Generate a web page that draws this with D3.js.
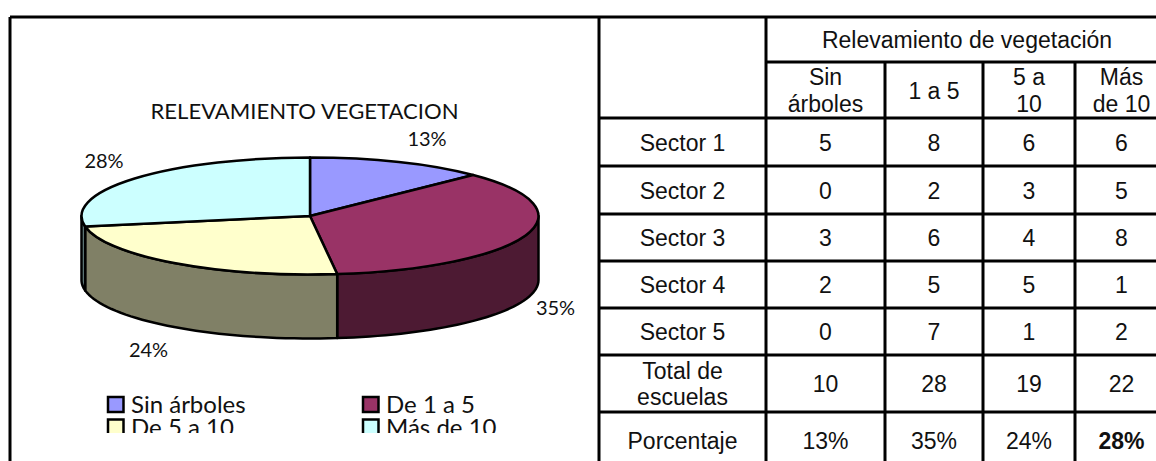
<!DOCTYPE html>
<html>
  <head>
    <meta charset="UTF-8" />
    <title>Relevamiento vegetacion</title>
    <style>
      html, body { margin: 0; padding: 0; background: #fff; }
      svg { display: block; }
      .pie text { font-family: Lato, "Open Sans", sans-serif; fill: #111; }
      .tabla text { font-family: "Liberation Sans", Arial, sans-serif; fill: #111; font-size: 23px; text-anchor: middle; }
    </style>
  </head>
  <body>
    <svg></svg>
    <script src="https://cdnjs.cloudflare.com/ajax/libs/d3/7.8.5/d3.min.js"></script>
    <script>
      // values
      const categorias = ["Sin árboles", "De 1 a 5", "De 5 a 10", "Más de 10"];
      const totales = [10, 28, 19, 22];
      const porcentajes = ["13%", "35%", "24%", "28%"];
      const colores = ["#9999ff", "#993366", "#ffffcc", "#ccffff"];
      const coloresLado = ["#4d4d80", "#4d1a33", "#808066", "#668080"];

      const titulo = "RELEVAMIENTO VEGETACION";
      const tituloTabla = "Relevamiento de vegetación";
      const encabezados = [["Sin", "árboles"], ["1 a 5"], ["5 a", "10"], ["Más", "de 10"]];
      const filas = [["Sector 1"], ["Sector 2"], ["Sector 3"], ["Sector 4"], ["Sector 5"], ["Total de", "escuelas"], ["Porcentaje"]];
      const sector1 = [5, 8, 6, 6];
      const sector2 = [0, 2, 3, 5];
      const sector3 = [3, 6, 4, 8];
      const sector4 = [2, 5, 5, 1];
      const sector5 = [0, 7, 1, 2];

      const width = 1156, height = 461;
      const svg = d3.select("svg").attr("width", width).attr("height", height);

      // pie geometry
      const cx = 310, cy = 216, rx = 228.5, ry = 58.5, depth = 64;

      const g = svg.append("g").attr("class", "pie");

      const arcos = d3.pie().sort(null)(totales);
      const arc = d3.arc().innerRadius(0).outerRadius(rx);

      // point on the rim, angle clockwise from the top like d3.arc
      const rim = (a, dy) => [cx + rx * Math.sin(a), cy - ry * Math.cos(a) + dy];
      const linea = d3.line();

      // walls: only the part of each slice between 3 o'clock and 9 o'clock shows
      arcos.forEach((d, i) => {
        const a0 = Math.max(d.startAngle, Math.PI / 2);
        const a1 = Math.min(d.endAngle, (3 * Math.PI) / 2);
        if (a1 <= a0) return;
        const borde = d3.range(0, 41).map((k) => a0 + ((a1 - a0) * k) / 40);
        const puntos = borde.map((a) => rim(a, 0)).concat(borde.slice().reverse().map((a) => rim(a, depth)));
        g.append("path")
          .attr("d", linea(puntos) + "Z")
          .attr("fill", coloresLado[i])
          .attr("stroke", "#000")
          .attr("stroke-width", 2.5)
          .attr("stroke-linejoin", "round");
      });

      // top face, the scale squashes the circle into the ellipse
      g.append("g")
        .attr("transform", `translate(${cx},${cy}) scale(1,${ry / rx})`)
        .selectAll("path")
        .data(arcos)
        .enter()
        .append("path")
        .attr("d", arc)
        .attr("fill", (d, i) => colores[i])
        .attr("stroke", "#000")
        .attr("stroke-width", 2.5)
        .attr("stroke-linejoin", "round")
        .attr("vector-effect", "non-scaling-stroke");

      g.append("text")
        .attr("x", 304.5)
        .attr("y", 119)
        .attr("text-anchor", "middle")
        .attr("font-size", 21)
        .attr("textLength", 308)
        .attr("lengthAdjust", "spacingAndGlyphs")
        .text(titulo);

      const etiquetaPos = [[427, 146], [555.5, 315], [148.5, 357], [104, 168]];
      g.selectAll("text.pct")
        .data(porcentajes)
        .enter()
        .append("text")
        .attr("class", "pct")
        .attr("x", (d, i) => etiquetaPos[i][0])
        .attr("y", (d, i) => etiquetaPos[i][1])
        .attr("text-anchor", "middle")
        .attr("font-size", 20)
        .text((d) => d);

      // legend, the second row is cut off by the picture frame
      svg.append("clipPath").attr("id", "corte").append("rect").attr("x", 0).attr("y", 0).attr("width", 600).attr("height", 433);
      const leyendaX = [108, 363], leyendaY = [397, 419.5];
      const ley = g.append("g").attr("clip-path", "url(#corte)");
      categorias.forEach((c, i) => {
        const x = leyendaX[i % 2], y = leyendaY[Math.floor(i / 2)];
        ley.append("rect").attr("x", x).attr("y", y).attr("width", 15.5).attr("height", 15).attr("fill", colores[i]).attr("stroke", "#000").attr("stroke-width", 2.5);
        ley.append("text").attr("x", x + 23).attr("y", y + 16).attr("font-size", 24).text(c);
      });

      // table, the last column and row run past the edge of the picture
      const t = svg.append("g").attr("class", "tabla");
      const colX = [599, 766, 885, 983, 1075, 1168];
      const filaY = [17, 62, 118, 166, 214, 261, 308, 355, 412, 468];
      const valores = [sector1, sector2, sector3, sector4, sector5, totales, porcentajes];

      const raya = (x1, y1, x2, y2) =>
        svg.append("line").attr("x1", x1).attr("y1", y1).attr("x2", x2).attr("y2", y2).attr("stroke", "#000").attr("stroke-width", 3);

      raya(10, 17, width, 17);
      raya(10, 17, 10, height);
      raya(colX[0], 17, colX[0], height);
      raya(colX[1], 17, colX[1], height);
      raya(colX[1], 62, width, 62);
      filaY.slice(2, 9).forEach((y) => raya(colX[0], y, width, y));
      colX.slice(2, 5).forEach((x) => raya(x, 62, x, height));

      // text with one or two lines, centred on a cell
      const celda = (lineas, x, y, negrita) => {
        const txt = t.append("text").attr("x", x).attr("y", y).attr("font-weight", negrita ? "bold" : null);
        lineas.forEach((l, i) => {
          txt.append("tspan")
            .attr("x", x)
            .attr("dy", i === 0 ? 8.5 - ((lineas.length - 1) * 26.5) / 2 : 26.5)
            .text(l);
        });
      };

      celda([tituloTabla], (colX[1] + colX[5]) / 2, (filaY[0] + filaY[1]) / 2);
      encabezados.forEach((h, c) => celda(h, (colX[c + 1] + colX[c + 2]) / 2, (filaY[1] + filaY[2]) / 2));
      filas.forEach((f, r) => {
        const y = (filaY[r + 2] + filaY[r + 3]) / 2;
        celda(f, (colX[0] + colX[1]) / 2, y);
        valores[r].forEach((v, c) => {
          celda([String(v)], (colX[c + 1] + colX[c + 2]) / 2, y, r === 6 && c === 3);
        });
      });
    </script>
  </body>
</html>
